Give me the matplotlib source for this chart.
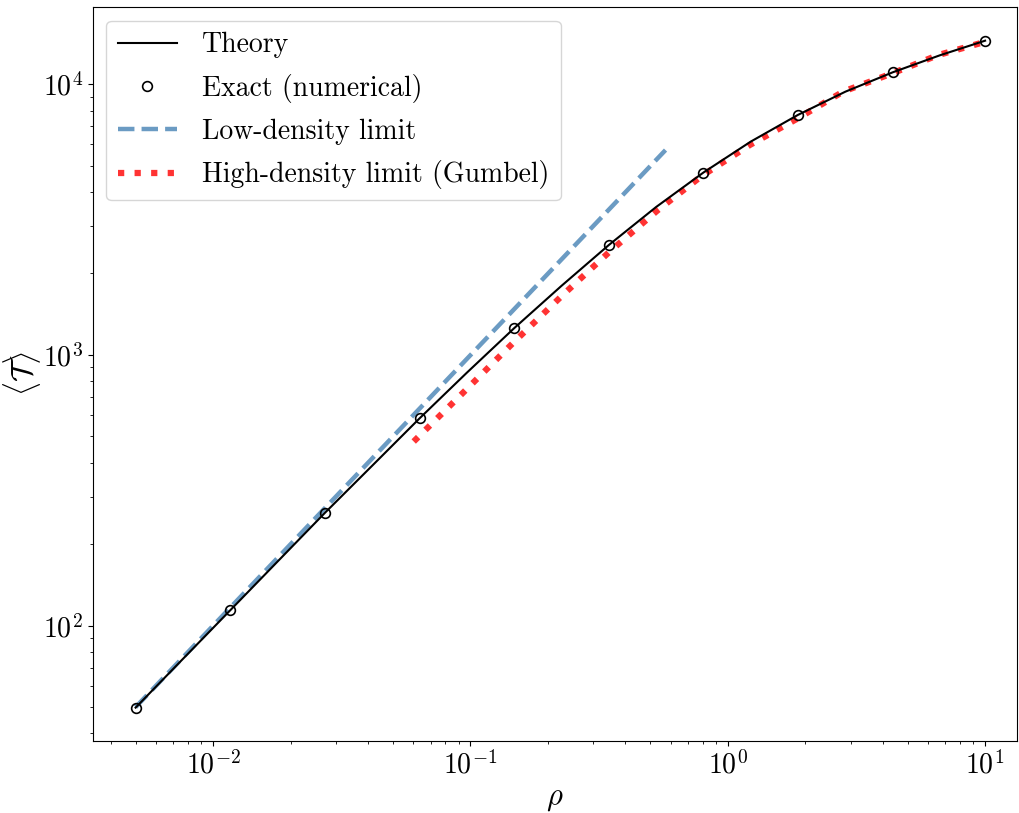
import numpy as np
import matplotlib
matplotlib.use("Agg")
import matplotlib.pyplot as plt

plt.rcParams['font.family'] = 'serif'
plt.rcParams['font.serif'] = ['cmr10', 'DejaVu Serif']
plt.rcParams['mathtext.fontset'] = 'cm'
plt.rcParams['axes.formatter.use_mathtext'] = True
plt.rcParams['axes.unicode_minus'] = False

# exact (numerical) points
rho_exact = [0.005, 0.01166, 0.02719, 0.06341, 0.1479, 0.3448, 0.8042, 1.875, 4.373, 10.0]
T_exact = [49.8, 114, 261, 583, 1256, 2547, 4720, 7710, 11070, 14490]

# theory curve
rho_theory = [0.005, 0.007637, 0.01166, 0.01781, 0.02719, 0.04153, 0.06341, 0.09684,
              0.1479, 0.2258, 0.3448, 0.5266, 0.8042, 1.228, 1.875, 2.864, 4.373, 6.678, 10.0]
T_theory = [49.8, 75.4, 114, 172.6, 261, 390, 583, 860,
            1256, 1800, 2547, 3520, 4720, 6140, 7710, 9390, 11070, 12800, 14490]

# low-density limit (straight line in log-log)
rho_low = [0.005, 0.573]
T_low = [50, 5715]

# high-density limit (Gumbel)
rho_high = [0.0602, 0.0910, 0.1466, 0.227, 0.345, 0.5316, 0.791, 1.219, 1.875, 2.81, 4.373, 6.57, 10.0]
T_high = [479, 706, 1109, 1656, 2393, 3412, 4580, 5970, 7490, 9400, 10990, 12820, 14350]

fig = plt.figure(figsize=(10.19, 8.13), dpi=100)
ax = fig.add_axes([0.0908, 0.0886, 0.9072, 0.9028])

ax.plot(rho_theory, T_theory, color='black', lw=1.5, label='Theory', zorder=3)
ax.plot(rho_exact, T_exact, 'o', mfc='none', mec='black', ms=7, mew=1.2,
        label='Exact (numerical)', zorder=4)
ax.plot(rho_low, T_low, '--', color='steelblue', alpha=0.8, lw=3.2,
        label='Low-density limit', zorder=2)
ax.plot(rho_high, T_high, ':', color='red', alpha=0.8, lw=4.5,
        label='High-density limit (Gumbel)', zorder=2)

ax.set_xscale('log')
ax.set_yscale('log')
ax.set_xlim(0.0034, 13.3)
ax.set_ylim(37.5, 19300)

ax.set_xlabel(r'$\rho$', fontsize=22)
ax.set_ylabel(r'$\langle \mathcal{T} \rangle$', fontsize=22, labelpad=0)
ax.tick_params(labelsize=20)

ax.legend(loc='upper left', fontsize=20, handlelength=2.15, handletextpad=0.9,
          labelspacing=0.56)

fig.savefig('out.png', dpi=100)
